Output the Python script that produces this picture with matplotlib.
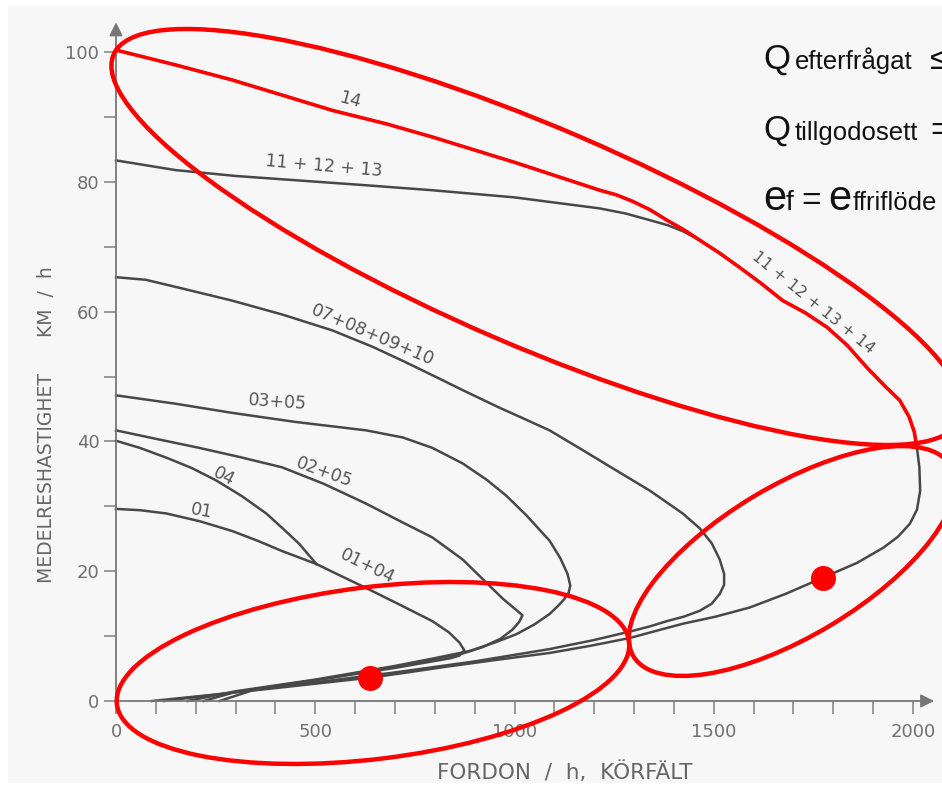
import matplotlib.pyplot as plt
from matplotlib.patches import Ellipse, Rectangle

W, H = 942, 788

# --- kurvor (flöde fordon/h, hastighet km/h) ---
q14_upp = [0, 150, 291, 420, 543, 680, 794, 1000, 1214, 1255, 1296, 1340, 1382, 1425, 1465, 1515,
           1565, 1620, 1673, 1730, 1784, 1835, 1884, 1930, 1967, 1990, 2003, 2010]
v14_upp = [100.3, 98.0, 95.7, 93.3, 91.0, 88.9, 86.9, 83.0, 78.7, 78.0, 77.0, 75.7, 74.1, 72.6, 71.0, 69.0,
           66.8, 64.3, 61.7, 59.8, 57.6, 54.8, 51.4, 48.5, 46.3, 43.8, 41.5, 39.0]
q14_ned = [2010, 2016, 2018, 2010, 1992, 1962, 1925, 1860, 1774, 1680, 1590, 1505, 1422, 1355, 1289,
           1190, 1088, 950, 819, 720, 638, 520, 402, 250, 90]
v14_ned = [39.0, 36.0, 32.4, 29.5, 27.3, 25.3, 23.6, 21.3, 19.0, 16.5, 14.4, 13.0, 11.9, 10.8, 9.7,
           8.5, 7.4, 6.3, 5.2, 4.3, 3.6, 2.8, 2.0, 1.0, 0.0]

q11 = [0, 150, 300, 460, 620, 794, 1000, 1214, 1280, 1339, 1385, 1422, 1465]
v11 = [83.3, 81.8, 80.9, 80.2, 79.5, 78.7, 77.6, 75.9, 75.1, 74.1, 73.3, 72.4, 71.0]

q07 = [0, 75, 150, 291, 420, 543, 643, 720, 794, 870, 962, 1020, 1088, 1170, 1256, 1340, 1422, 1465, 1495,
       1515, 1526, 1526, 1515, 1495, 1465, 1425, 1382, 1340, 1296, 1200, 1088, 900, 700, 450, 120]
v07 = [65.3, 64.9, 63.8, 61.7, 59.5, 57.1, 54.6, 52.4, 50.2, 47.9, 45.2, 43.6, 41.7, 38.7, 35.5, 32.4, 28.9, 26.6, 24.3,
       21.8, 19.6, 17.9, 16.5, 15.0, 13.9, 13.0, 12.3, 11.5, 10.8, 9.4, 8.0, 6.1, 4.4, 2.5, 0.0]

q03 = [0, 150, 291, 450, 628, 720, 794, 870, 930, 980, 1030, 1088, 1115, 1133, 1140, 1136, 1125, 1110,
       1088, 1050, 1005, 950, 887, 800, 700, 500, 300, 180]
v03 = [47.1, 45.8, 44.4, 43.0, 41.7, 40.6, 39.0, 36.6, 34.1, 31.6, 28.6, 24.7, 22.0, 19.6, 17.8, 16.7, 15.7, 14.7,
       13.4, 11.8, 10.3, 9.0, 7.7, 6.6, 5.4, 3.3, 1.5, 0.0]

q02 = [0, 100, 209, 310, 417, 520, 628, 710, 794, 870, 920, 970, 1005, 1020, 1012, 995, 965, 920, 869,
       700, 500, 300, 220]
v02 = [41.7, 40.4, 39.0, 37.6, 36.0, 33.5, 30.4, 27.8, 25.2, 21.8, 18.8, 15.8, 14.0, 13.2, 12.2, 11.0, 9.6, 8.3, 7.3,
       5.3, 3.2, 1.4, 0.0]

q04 = [0, 60, 126, 190, 251, 315, 377, 420, 460, 503]
v04 = [40.1, 39.0, 37.5, 35.9, 34.0, 31.6, 28.9, 26.5, 24.2, 21.1]

q01 = [0, 60, 126, 210, 291, 355, 417, 503]
v01 = [29.6, 29.4, 28.9, 27.7, 26.2, 24.7, 23.1, 21.1]

q0104 = [503, 560, 628, 710, 794, 835, 862, 874, 862, 840, 700, 500, 350, 260]
v0104 = [21.1, 19.4, 17.4, 14.9, 12.3, 10.6, 9.0, 7.8, 7.0, 6.6, 5.1, 3.2, 1.8, 0.0]

# etiketter: text, flöde, hastighet, rotation, storlek
etiketter = [
    ("14", 588, 92.6, -15, 12.5),
    ("11 + 12 + 13", 522, 82.4, -5, 12.5),
    ("11 + 12 + 13 + 14", 1750, 61.4, -39, 11.5),
    ("07+08+09+10", 643, 56.4, -23, 12.5),
    ("03+05", 405, 46.0, -4, 12.5),
    ("02+05", 522, 35.3, -20, 12.5),
    ("04", 271, 34.6, -27, 12.5),
    ("01", 214, 29.3, -10, 12.5),
    ("01+04", 630, 20.8, -26, 12.5),
]

# röda punkter
punkt_q = [638, 1774]
punkt_v = [3.5, 19.0]

# röda ellipser i bildpixlar: (cx, cy, bredd, höjd, vinkel)
ellipser = [
    (537, 237, 922, 218, 23.3),
    (792, 561, 370, 150, -31),
    (373, 673, 516, 172, -7),
]

fig = plt.figure(figsize=(W / 100, H / 100), dpi=100, facecolor='#f7f7f7')
# vita kanter runt den inskannade bilden
fig.add_artist(Rectangle((0, 0), 7 / W, 1, transform=fig.transFigure, color='white', zorder=0))
fig.add_artist(Rectangle((0, 1 - 5 / H), 1, 5 / H, transform=fig.transFigure, color='white', zorder=0))
fig.add_artist(Rectangle((0, 0), 1, 5 / H, transform=fig.transFigure, color='white', zorder=0))

x0px, x1px = 116, 913
y0px, y1px = 701, 52
ax = fig.add_axes([x0px / W, 1 - y0px / H, (x1px - x0px) / W, (y0px - y1px) / H])
ax.set_xlim(0, 2000)
ax.set_ylim(0, 100)
ax.patch.set_alpha(0)
for s in ax.spines.values():
    s.set_visible(False)

grå = '#484848'
ax.annotate('', xy=(1.03, 0), xytext=(0, 0), xycoords='axes fraction',
            arrowprops=dict(arrowstyle='-|>', color='#777777', lw=1.3, mutation_scale=20))
ax.annotate('', xy=(0, 1.05), xytext=(0, 0), xycoords='axes fraction',
            arrowprops=dict(arrowstyle='-|>', color='#777777', lw=1.3, mutation_scale=20))

ax.set_xticks(range(0, 2001, 500))
ax.set_xticks(range(0, 2001, 100), minor=True)
ax.set_yticks(range(0, 101, 20))
ax.set_yticks(range(0, 101, 10), minor=True)
ax.tick_params(which='both', direction='out', length=9, width=1.1, color='#808080',
               labelcolor='#707070', labelsize=13)
ax.tick_params(axis='x', pad=7)
ax.tick_params(axis='y', pad=3)

for q, v in [(q14_upp, v14_upp), (q14_ned, v14_ned), (q11, v11), (q07, v07), (q03, v03),
             (q02, v02), (q04, v04), (q01, v01), (q0104, v0104)]:
    ax.plot(q, v, color=grå, lw=1.8, clip_on=False, solid_joinstyle='round')

for txt, q, v, rot, fs in etiketter:
    ax.text(q, v, txt, rotation=rot, rotation_mode='anchor', ha='center', va='center',
            fontsize=fs, color='#555555')

ax.set_xlabel('FORDON  /  h,  KÖRFÄLT', fontsize=15.5, color='#666666')
ax.xaxis.set_label_coords((565 - x0px) / (x1px - x0px), (y0px - 772) / (y0px - y1px))
ax.xaxis.label.set_va('center')
ax.set_ylabel('MEDELRESHASTIGHET      KM  /  h', fontsize=13.5, color='#666666')
ax.yaxis.set_label_coords((47 - x0px) / (x1px - x0px), (y0px - 425) / (y0px - y1px))
ax.yaxis.label.set_va('center')

# rött spår ovanpå kurva 14
ax.plot(q14_upp, v14_upp, color='red', lw=2.6, clip_on=False, zorder=4)
ax.plot(punkt_q, punkt_v, 'o', color='red', ms=17, clip_on=False, zorder=6)

ov = fig.add_axes([0, 0, 1, 1], zorder=5)
ov.set_xlim(0, W)
ov.set_ylim(H, 0)
ov.axis('off')
ov.patch.set_alpha(0)
for cx, cy, bw, bh, ang in ellipser:
    ov.add_patch(Ellipse((cx, cy), bw, bh, angle=ang, fill=False, ec='red', lw=3.2))

f = ['Liberation Sans', 'DejaVu Sans']
ov.text(763, 69, 'Q', fontsize=25, family=f, color='#111111', va='baseline')
ov.text(795, 69, 'efterfrågat', fontsize=18.5, family=f, color='#111111', va='baseline')
ov.text(930, 69, '≤', fontsize=24, family=f, color='#111111', va='baseline')
ov.text(763, 140, 'Q', fontsize=25, family=f, color='#111111', va='baseline')
ov.text(795, 140, 'tillgodosett', fontsize=18.5, family=f, color='#111111', va='baseline')
ov.text(930, 140, '=', fontsize=24, family=f, color='#111111', va='baseline')
ov.text(763, 210, 'e', fontsize=30, family=f, color='#111111', va='baseline')
ov.text(786, 210, 'f', fontsize=20, family=f, color='#111111', va='baseline')
ov.text(801, 210, '=', fontsize=24, family=f, color='#111111', va='baseline')
ov.text(828, 210, 'e', fontsize=30, family=f, color='#111111', va='baseline')
ov.text(853, 210, 'ffriflöde', fontsize=18.5, family=f, color='#111111', va='baseline')

fig.savefig('out.png', dpi=100, facecolor=fig.get_facecolor())
